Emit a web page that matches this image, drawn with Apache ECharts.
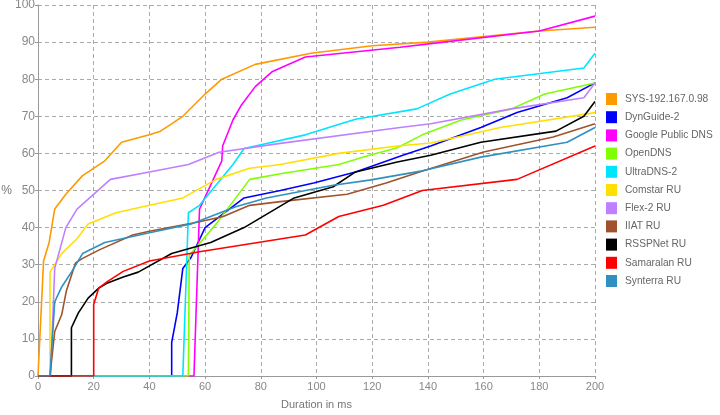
<!DOCTYPE html>
<html>
<head>
<meta charset="utf-8">
<script src="https://cdn.jsdelivr.net/npm/echarts@6/dist/echarts.min.js"></script>
<style>html,body{margin:0;padding:0;background:#fff;}#c{width:720px;height:415px;}</style>
</head>
<body>
<div id="c"></div>
<script>
const seriesNames = ['SYS-192.167.0.98','DynGuide-2','Google Public DNS','OpenDNS','UltraDNS-2','Comstar RU','Flex-2 RU','IIAT RU','RSSPNet RU','Samaralan RU','Synterra RU'];
const xTicks = [0,20,40,60,80,100,120,140,160,180,200];
const yTicks = [0,10,20,30,40,50,60,70,80,90,100];

const sysData = [[0,0],[0.5,0],[2,31],[4,36],[6,45],[10,49],[16,54],[24,58],[30,63],[40,65],[44,66],[52,70],[60,76],[66,80],[78,84],[98,87],[120,89],[140,90],[160,91.5],[180,93],[200,94]];
const dynGuideData = [[0,0],[48,0],[48,9],[50,17],[52,29],[55,32],[60,40],[74,48],[87,50],[99,52],[114,55],[131,59.5],[141,62],[159,67],[172,71],[190,75],[200,79]];
const googleData = [[0,0],[56,0],[58,45],[66,58],[66.3,62],[70,69],[73,73],[78,78],[84,82],[96,86],[130,88.6],[141,89.6],[180,93],[200,97]];
const openDnsData = [[0,0],[54,0],[54.3,32.5],[64,41],[76,53],[87,54.5],[108,57],[119,59.5],[129,61.5],[138,65],[152,69],[170,72],[182,76],[200,79]];
const ultraDnsData = [[0,0],[52,0],[54,44],[58,46],[70,57],[74,61.3],[96,65],[114,69.2],[136,72],[148,76],[164,80],[196,83],[200,87]];
const comstarData = [[0,0],[4.3,0],[4.3,28],[8.5,33],[14,37],[18,41],[28,44],[40,46],[52,48],[64,53],[76,56],[87,57],[108,60],[129,62],[141,62.8],[166,67],[200,71]];
const flexData = [[0,0],[4.5,0],[6,29],[10,40],[14,45],[26,53],[40,55],[54,57],[65,60.3],[87,62.7],[130,67],[141,68],[170,72],[196,75],[200,79]];
const iiatData = [[0,0],[4.3,0],[6,12],[8.5,16.5],[10.2,23],[13.5,30.5],[16,31.7],[22,34],[34,38],[40,39],[58,41.6],[66.5,43],[76,46],[87,47],[111,49],[125,52],[137,55],[160,60.4],[185,64.4],[200,68]];
const rsspData = [[0,0],[12,0],[12,13],[14.5,17],[18,21],[22,23.8],[25,25.1],[30.6,26.7],[36,28],[48,33],[62,36],[74,40],[92,48],[106,51],[114,55],[129,57.7],[141,59.5],[159,63],[186,66],[196,70],[200,74]];
const samaralanData = [[0,0],[20,0],[20,19.3],[21.8,23.7],[25,25.5],[30.6,28.2],[40,31],[58,33.5],[96,38],[108,43],[124,46],[138,50],[172,53],[200,62]];
const synterraData = [[0,0],[4.3,0],[6,20],[8.5,24],[12,28],[16,33],[24,36],[40,38.6],[55,41],[71,45.6],[82,48],[106,51.4],[119,52.8],[138,55.3],[159,59],[190,63],[200,67]];

const allData = [sysData,dynGuideData,googleData,openDnsData,ultraDnsData,comstarData,flexData,iiatData,rsspData,samaralanData,synterraData];
const colors = ['#ff9900','#0000ff','#ff00ff','#80ff00','#00e5ff','#ffe000','#bf80ff','#a0522d','#000000','#ff0000','#3090c0'];

const chart = echarts.init(document.getElementById('c'), null, {renderer:'canvas'});
const font = 'Liberation Sans, Arial, Helvetica, sans-serif';
chart.setOption({
  animation: false,
  textStyle: {fontFamily: font},
  grid: {left: 38, right: 125, top: 5, bottom: 39, containLabel: false, outerBoundsMode: 'none'},
  legend: {
    orient: 'vertical', left: 606, top: 93, padding: 0,
    itemWidth: 11, itemHeight: 12, itemGap: 6.2,
    icon: 'rect',
    textStyle: {color: '#666', fontSize: 10.2, fontFamily: font, padding: [0,0,0,3]},
    data: seriesNames
  },
  xAxis: {
    type: 'value', min: xTicks[0], max: xTicks[xTicks.length-1], interval: xTicks[1]-xTicks[0],
    name: 'Duration in ms', nameLocation: 'middle', nameGap: 23, nameMoveOverlap: false,
    nameTextStyle: {color: '#777', fontSize: 11, fontFamily: font},
    axisLine: {show: true, lineStyle: {color: '#999', width: 1}},
    axisTick: {show: true, length: 3, lineStyle: {color: '#999'}},
    axisLabel: {color: '#888', fontSize: 11, margin: 5, fontFamily: font},
    splitLine: {show: true, lineStyle: {color: '#aaa', type: [4,3], width: 1}}
  },
  yAxis: {
    type: 'value', min: yTicks[0], max: yTicks[yTicks.length-1], interval: yTicks[1]-yTicks[0],
    name: '%', nameLocation: 'middle', nameGap: 26, nameRotate: 0, nameMoveOverlap: false,
    nameTextStyle: {color: '#777', fontSize: 12, fontFamily: font},
    axisLine: {show: true, lineStyle: {color: '#999', width: 1}},
    axisTick: {show: true, length: 3, lineStyle: {color: '#999'}},
    axisLabel: {color: '#888', fontSize: 12, margin: 3, fontFamily: font},
    splitLine: {show: true, lineStyle: {color: '#aaa', type: [4,3], width: 1}}
  },
  series: seriesNames.map((n, i) => ({
    name: n, type: 'line', data: allData[i], showSymbol: false, symbol: 'none',
    color: colors[i],
    lineStyle: {color: colors[i], width: 1.6},
    z: 2
  }))
});
</script>
</body>
</html>
